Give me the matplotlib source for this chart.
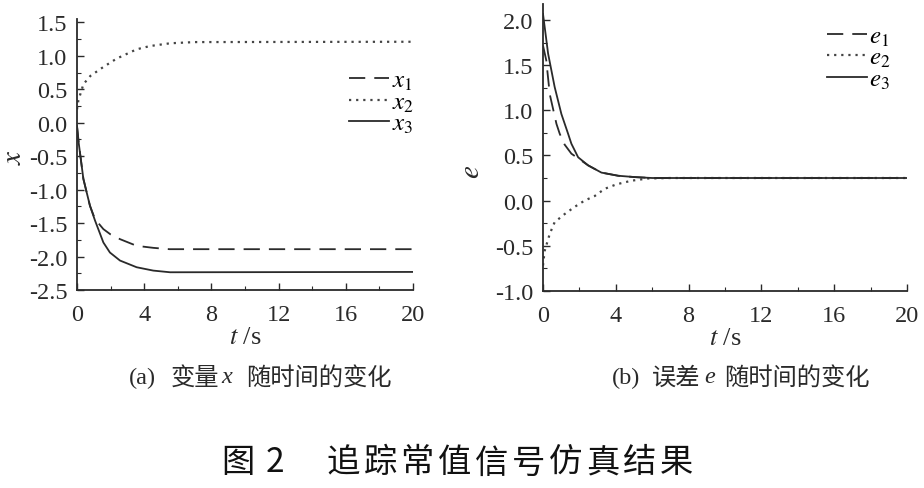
import numpy as np
import matplotlib
matplotlib.use("Agg")
import matplotlib.pyplot as plt
from matplotlib.ticker import MultipleLocator

plt.rcParams['font.family'] = ['Liberation Serif', 'Noto Sans CJK SC']
plt.rcParams['mathtext.fontset'] = 'stix'

# (a) state x
t_x1 = [0, 0.1, 0.38, 0.77, 1.07, 1.57, 2.0, 2.56, 3.55, 4.54, 5.5, 20]
x1 = [-0.05, -0.3, -0.84, -1.24, -1.44, -1.59, -1.67, -1.74, -1.84, -1.87, -1.89, -1.89]
t_x2 = [0, 0.08, 0.38, 0.8, 1.57, 2.36, 3.55, 4.35, 5.54, 7, 20]
x2 = [0.2, 0.33, 0.575, 0.7, 0.833, 0.958, 1.097, 1.146, 1.187, 1.205, 1.21]
t_x3 = [0, 0.1, 0.38, 0.77, 1.07, 1.57, 1.96, 2.56, 3.55, 4.54, 5.54, 20]
x3 = [-0.05, -0.3, -0.84, -1.24, -1.46, -1.79, -1.94, -2.06, -2.16, -2.21, -2.235, -2.23]

# (b) error e
t_e1 = [0, 0.18, 0.37, 0.74, 0.92, 1.19, 1.56, 2.48, 3.21, 4.13, 5.05, 6, 20]
e1 = [1.72, 1.555, 1.18, 0.85, 0.74, 0.62, 0.52, 0.39, 0.31, 0.275, 0.26, 0.25, 0.25]
t_e2 = [0, 0.09, 0.37, 0.64, 1.19, 1.74, 2.29, 2.84, 3.39, 4.04, 4.86, 5.78, 7, 20]
e2 = [-0.72, -0.56, -0.37, -0.24, -0.15, -0.07, 0.0, 0.05, 0.13, 0.18, 0.22, 0.245, 0.25, 0.25]
t_e3 = [0, 0.28, 0.64, 1.01, 1.38, 1.56, 1.93, 2.48, 3.21, 4.13, 5.05, 6, 20]
e3 = [2.07, 1.63, 1.26, 0.96, 0.74, 0.63, 0.48, 0.39, 0.31, 0.275, 0.26, 0.25, 0.25]

xticks = [0, 4, 8, 12, 16, 20]
title_chars = list('追踪常值信号仿真结果')
ink = '#2a2a2a'
W, H = 924, 489

fig = plt.figure(figsize=(9.24, 4.89), dpi=100)
ax1 = fig.add_axes([77/W, 1 - 291/H, 336/W, 271/H])
ax2 = fig.add_axes([543/W, 1 - 291.7/H, 364/W, 286.7/H])


def style(ax):
    for s in ['top', 'right']:
        ax.spines[s].set_visible(False)
    for s in ['left', 'bottom']:
        ax.spines[s].set_linewidth(1.3)
        ax.spines[s].set_color(ink)
    ax.tick_params(which='both', direction='in', colors=ink, labelsize=17.5)
    ax.tick_params(axis='x', which='major', pad=10)
    ax.tick_params(axis='y', which='major', pad=7)
    ax.tick_params(which='major', length=5, width=1)
    ax.tick_params(which='minor', length=3, width=0.8)
    ax.set_xlim(0, 20)
    ax.set_xticks(xticks)
    ax.xaxis.set_minor_locator(MultipleLocator(2))
    ax.yaxis.set_minor_locator(MultipleLocator(0.25))
    ax.set_xlabel(r'$t$ /s', fontsize=19, color=ink, labelpad=1)


def px(x, y):
    return x / W, 1 - y / H


style(ax1)
ax1.plot(t_x1, x1, color=ink, lw=1.3, dashes=(9, 5), label=r'$x_1$')
ax1.plot(t_x2, x2, color='#444444', lw=1.6, linestyle=(0, (1, 2.2)), label=r'$x_2$')
ax1.plot(t_x3, x3, color=ink, lw=1.3, label=r'$x_3$')
ax1.set_ylim(-2.5, 1.55)
ax1.set_yticks(np.arange(-2.5, 1.51, 0.5))
ax1.set_yticklabels([f'{v:.1f}' for v in np.arange(-2.5, 1.51, 0.5)])
ax1.set_ylabel(r'$x$', fontsize=21, color=ink)
ax1.yaxis.set_label_coords(-50/336, (291 - 157)/271)
ax1.legend(loc='upper right', bbox_to_anchor=(1.04, 0.86), frameon=False,
           fontsize=18, handlelength=1.6, handletextpad=0.1, labelspacing=-0.05,
           borderpad=0)

style(ax2)
ax2.plot(t_e1, e1, color=ink, lw=1.3, dashes=(9, 5), label=r'$e_1$')
ax2.plot(t_e2, e2, color='#444444', lw=1.6, linestyle=(0, (1, 2.2)), label=r'$e_2$')
ax2.plot(t_e3, e3, color=ink, lw=1.3, label=r'$e_3$')
ax2.set_ylim(-1.0, 2.18)
ax2.set_yticks(np.arange(-1.0, 2.01, 0.5))
ax2.set_yticklabels([f'{v:.1f}' for v in np.arange(-1.0, 2.01, 0.5)])
ax2.set_ylabel(r'$e$', fontsize=21, color=ink)
ax2.yaxis.set_label_coords(-58/364, (291.7 - 172)/286.7)
ax2.legend(loc='upper right', bbox_to_anchor=(0.99, 0.97), frameon=False,
           fontsize=18, handlelength=1.6, handletextpad=0.1, labelspacing=-0.05,
           borderpad=0)

# sub captions: pieces so that the CJK text is not sent through mathtext
cap = dict(va='center', fontsize=17.5, color=ink)
fig.text(*px(129, 378), '(a)', ha='left', **cap)
fig.text(*px(171, 378), '变量', ha='left', family=['Noto Sans CJK SC'], **cap)
fig.text(*px(227, 378), 'x', ha='center', style='italic', **cap)
fig.text(*px(246, 378), '随时间的变化', ha='left', family=['Noto Sans CJK SC'], **cap)

fig.text(*px(612, 378), '(b)', ha='left', **cap)
fig.text(*px(652, 378), '误差', ha='left', family=['Noto Sans CJK SC'], **cap)
fig.text(*px(710, 378), 'e', ha='center', style='italic', **cap)
fig.text(*px(724, 378), '随时间的变化', ha='left', family=['Noto Sans CJK SC'], **cap)

# figure title, characters spaced as in the print
ttl = dict(ha='center', va='center', fontsize=24, color='#111111',
           family=['Noto Sans CJK SC', 'DejaVu Sans'])
fig.text(*px(238, 463), '图', **ttl)
fig.text(*px(275, 463), '2', **ttl)
for i, ch in enumerate(title_chars):
    fig.text(*px(343 + i * 37.1, 463), ch, **ttl)

fig.savefig('out.png', dpi=100, facecolor='white')
